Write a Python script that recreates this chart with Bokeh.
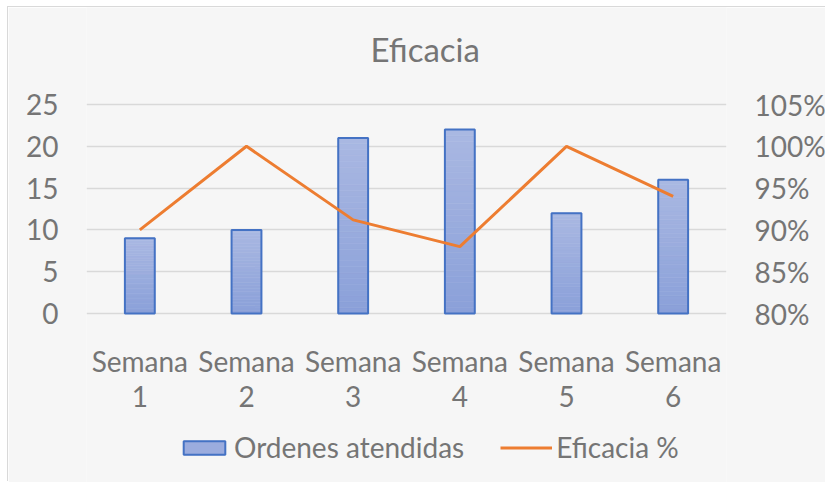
from bokeh.plotting import figure
from bokeh.models import (ColumnDataSource, Range1d, LinearAxis, FixedTicker,
                          PrintfTickFormatter, Legend, LegendItem, FactorRange)
from bokeh.core.properties import value
from bokeh.embed import file_html
from bokeh.resources import INLINE

# ---- data ----
categories = ["Semana 1", "Semana 2", "Semana 3", "Semana 4", "Semana 5", "Semana 6"]
ordenes = [9, 10, 21, 22, 12, 16]
eficacia = [90, 100, 91.2, 88, 100, 94]
left_ticks = [0, 5, 10, 15, 20, 25]
right_ticks = [80, 85, 90, 95, 100, 105]
title_text = "Eficacia"

FONT = "Lato"
TXT = "#757575"
GRID = "#D9D9D9"
BG = "#F6F6F6"
BAR_LINE = "#4472C4"
LINE = "#ED7D31"
TOP_RGB = (0xAA, 0xB8, 0xE2)
BOT_RGB = (0x8A, 0xA0, 0xD9)

# layout (pixels): value axis 0..25 spans 209 px; frame spans the whole figure height
PPU = 209 / 25
ABOVE = 306   # px from the zero line up to the figure top
BELOW = 169   # px from the zero line down to the figure bottom
lo = -BELOW / PPU
hi = ABOVE / PPU

xr = FactorRange(*categories, factor_padding=0, range_padding=0)
p = figure(x_range=xr, y_range=Range1d(lo, hi),
           frame_width=640, frame_height=ABOVE + BELOW, output_backend="svg",
           toolbar_location=None)
p.min_border_left = 78
p.min_border_right = 99
p.min_border_top = 0
p.min_border_bottom = 0
p.background_fill_color = BG
p.border_fill_color = BG
p.outline_line_color = None
p.styles = {"margin-left": "8px", "margin-top": "7px", "box-shadow": "-1px -1px 0 #D9D9D9"}

# gradient bars: slices per bar, mid level first so legend swatch gets a mid tone
N = 30
order = list(range(N // 2, N)) + list(range(0, N // 2))
xs, bots, tops, cols = [], [], [], []
for lvl in order:
    t = (lvl + 0.5) / N
    r = round(BOT_RGB[0] + (TOP_RGB[0] - BOT_RGB[0]) * t)
    g = round(BOT_RGB[1] + (TOP_RGB[1] - BOT_RGB[1]) * t)
    b = round(BOT_RGB[2] + (TOP_RGB[2] - BOT_RGB[2]) * t)
    c = "#%02x%02x%02x" % (r, g, b)
    for f, v in zip(categories, ordenes):
        xs.append(f)
        bots.append(v * lvl / N)
        tops.append(v * (lvl + 1) / N)
        cols.append(c)
slices = ColumnDataSource(dict(x=xs, bottom=bots, top=tops, color=cols))
bars = ColumnDataSource(dict(x=categories, top=ordenes))
line_src = ColumnDataSource(dict(x=categories, y=eficacia))

# grid
p.ygrid.ticker = FixedTicker(ticks=left_ticks)
p.ygrid.grid_line_color = GRID
p.ygrid.grid_line_width = 1.5
p.xgrid.grid_line_color = None

sl_r = p.vbar(x="x", bottom="bottom", top="top", width=0.28, source=slices,
              fill_color="color", line_color="color", line_width=0.6)
out_r = p.vbar(x="x", top="top", bottom=0, width=0.28, source=bars,
               fill_alpha=0, line_color=BAR_LINE, line_width=2)

p.extra_y_ranges = {"pct": Range1d(80 + lo, 80 + hi)}
ln_r = p.line(x="x", y="y", source=line_src, y_range_name="pct",
              line_color=LINE, line_width=3)

# axes
p.yaxis.ticker = FixedTicker(ticks=left_ticks)
ax_r = LinearAxis(y_range_name="pct", ticker=FixedTicker(ticks=right_ticks),
                  formatter=PrintfTickFormatter(format="%d%%"))
p.add_layout(ax_r, "right")
for ax in [p.yaxis[0], ax_r]:
    ax.axis_line_color = None
    ax.major_tick_line_color = None
    ax.minor_tick_line_color = None
    ax.major_tick_out = 0
    ax.major_tick_in = 0
    ax.minor_tick_out = 0
    ax.major_label_text_font = FONT
    ax.major_label_text_font_size = "28px"
    ax.major_label_text_color = TXT
    ax.major_label_standoff = 28
p.xaxis.visible = False

# category labels in two lines
words = [c.split(" ")[0] for c in categories]
nums = [c.split(" ")[1] for c in categories]
lab_src = ColumnDataSource(dict(x=categories, w=words, n=nums))
p.text(x="x", y=-47 / PPU, text="w", source=lab_src, text_align="center",
       text_baseline="alphabetic", text_font=value(FONT), text_font_size="28px",
       text_color=TXT)
p.text(x="x", y=-83 / PPU, text="n", source=lab_src, text_align="center",
       text_baseline="alphabetic", text_font=value(FONT), text_font_size="28px",
       text_color=TXT)

# chart title (centred on the chart area, above the plot)
p.text(x=[3.175], y=[265 / PPU], text=[title_text], text_align="center",
       text_baseline="middle", text_font=value(FONT), text_font_size="33px",
       text_color=TXT)

legend = Legend(items=[LegendItem(label="Ordenes atendidas", renderers=[sl_r, out_r], index=0),
                       LegendItem(label="Eficacia %", renderers=[ln_r], index=0)],
                orientation="horizontal", location=(92, 18),
                glyph_width=52, glyph_height=17, label_height=34, label_standoff=4, spacing=36,
                label_text_font=FONT, label_text_font_size="28px", label_text_color=TXT,
                border_line_alpha=0, background_fill_alpha=0, padding=0, margin=0)
p.add_layout(legend, "center")

open("out.html", "w").write(file_html(p, INLINE))
